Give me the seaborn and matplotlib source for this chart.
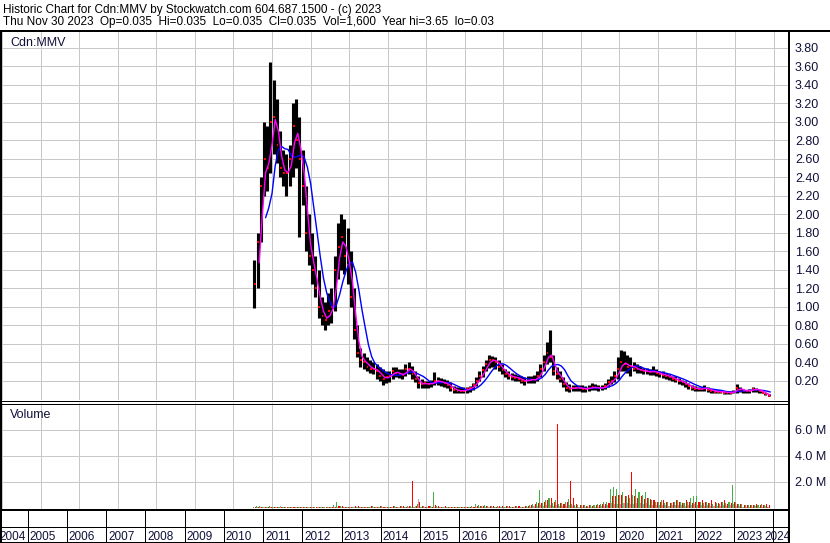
import numpy as np
import pandas as pd
import matplotlib
matplotlib.use("Agg")
import matplotlib.pyplot as plt
import seaborn as sns

# ---------------- data (monthly, Jul 2010 .. Nov 2023) ----------------
start_month = "2010-07"
end_month = "2023-11"

high = [
    1.50, 1.80, 2.40, 3.00, 2.95, 3.65,
    3.45, 3.25, 2.90, 2.70, 2.65, 2.75, 3.20, 3.25, 3.05, 2.70, 2.30, 2.00,
    1.80, 1.55, 1.40, 1.10, 1.05, 1.15, 1.20, 1.55, 1.90, 2.00, 1.95, 1.85,
    1.60, 1.20, 0.80, 0.55, 0.50, 0.45, 0.42, 0.40, 0.38, 0.35, 0.32, 0.30,
    0.30, 0.35, 0.35, 0.33, 0.32, 0.38, 0.40, 0.36, 0.30, 0.25, 0.22, 0.20,
    0.20, 0.21, 0.29, 0.24, 0.23, 0.22, 0.21, 0.18, 0.14, 0.13, 0.13, 0.13,
    0.13, 0.14, 0.17, 0.24, 0.30, 0.36, 0.42, 0.48, 0.47, 0.45, 0.42, 0.38,
    0.33, 0.30, 0.28, 0.27, 0.26, 0.25, 0.24, 0.25, 0.25, 0.26, 0.30, 0.38,
    0.48, 0.62, 0.75, 0.48, 0.35, 0.30, 0.24, 0.18, 0.16, 0.15, 0.15, 0.15,
    0.15, 0.14, 0.15, 0.17, 0.16, 0.15, 0.15, 0.17, 0.22, 0.25, 0.30, 0.45,
    0.53, 0.52, 0.48, 0.45, 0.40, 0.38, 0.36, 0.34, 0.34, 0.33, 0.36, 0.33,
    0.30, 0.30, 0.28, 0.27, 0.25, 0.25, 0.23, 0.21, 0.19, 0.17, 0.15, 0.14,
    0.13, 0.13, 0.15, 0.13, 0.11, 0.10, 0.10, 0.10, 0.09, 0.09, 0.09, 0.10,
    0.16, 0.13, 0.11, 0.10, 0.11, 0.13, 0.12, 0.10, 0.09, 0.07, 0.05,
]
low = [
    0.98, 1.20, 1.70, 2.20, 2.25, 2.45,
    2.65, 2.55, 2.40, 2.30, 2.20, 2.30, 2.40, 2.50, 1.75, 2.10, 1.60, 1.45,
    1.25, 1.10, 0.88, 0.80, 0.75, 0.80, 0.82, 0.95, 1.30, 1.40, 1.35, 1.25,
    1.00, 0.65, 0.45, 0.35, 0.33, 0.30, 0.28, 0.27, 0.22, 0.20, 0.15, 0.17,
    0.18, 0.22, 0.24, 0.23, 0.22, 0.25, 0.27, 0.22, 0.18, 0.12, 0.12, 0.12,
    0.12, 0.13, 0.15, 0.15, 0.14, 0.13, 0.12, 0.09, 0.07, 0.06, 0.06, 0.06,
    0.07, 0.08, 0.10, 0.14, 0.19, 0.24, 0.30, 0.34, 0.35, 0.33, 0.30, 0.27,
    0.24, 0.22, 0.21, 0.20, 0.19, 0.17, 0.15, 0.17, 0.17, 0.17, 0.19, 0.24,
    0.30, 0.38, 0.40, 0.26, 0.22, 0.18, 0.13, 0.09, 0.08, 0.09, 0.09, 0.09,
    0.08, 0.08, 0.09, 0.10, 0.10, 0.09, 0.10, 0.11, 0.13, 0.16, 0.18, 0.22,
    0.30, 0.30, 0.28, 0.25, 0.30, 0.28, 0.28, 0.27, 0.27, 0.26, 0.26, 0.25,
    0.24, 0.23, 0.22, 0.21, 0.19, 0.18, 0.16, 0.15, 0.13, 0.11, 0.10, 0.09,
    0.09, 0.09, 0.09, 0.08, 0.07, 0.06, 0.06, 0.06, 0.05, 0.05, 0.05, 0.06,
    0.07, 0.08, 0.07, 0.07, 0.07, 0.08, 0.08, 0.07, 0.06, 0.04, 0.03,
]
close = [
    1.25, 1.70, 2.30, 2.60, 2.50, 3.00,
    3.05, 2.75, 2.50, 2.45, 2.45, 2.60, 2.95, 2.80, 2.60, 2.30, 1.80, 1.55,
    1.40, 1.20, 1.00, 0.90, 0.85, 0.95, 1.00, 1.40, 1.65, 1.75, 1.55, 1.45,
    1.10, 0.75, 0.50, 0.42, 0.40, 0.35, 0.33, 0.32, 0.30, 0.25, 0.22, 0.24,
    0.25, 0.30, 0.28, 0.27, 0.26, 0.32, 0.33, 0.27, 0.22, 0.17, 0.16, 0.17,
    0.16, 0.17, 0.20, 0.19, 0.18, 0.17, 0.15, 0.12, 0.10, 0.09, 0.09, 0.09,
    0.11, 0.12, 0.15, 0.20, 0.25, 0.31, 0.38, 0.42, 0.42, 0.40, 0.35, 0.31,
    0.27, 0.25, 0.24, 0.23, 0.22, 0.20, 0.19, 0.21, 0.21, 0.21, 0.25, 0.32,
    0.40, 0.50, 0.45, 0.30, 0.27, 0.22, 0.16, 0.12, 0.11, 0.12, 0.12, 0.12,
    0.11, 0.11, 0.12, 0.13, 0.12, 0.12, 0.12, 0.14, 0.18, 0.20, 0.25, 0.32,
    0.40, 0.38, 0.35, 0.36, 0.33, 0.32, 0.31, 0.30, 0.30, 0.29, 0.30, 0.28,
    0.27, 0.26, 0.25, 0.24, 0.22, 0.21, 0.19, 0.18, 0.16, 0.14, 0.12, 0.11,
    0.11, 0.11, 0.12, 0.10, 0.09, 0.08, 0.08, 0.08, 0.07, 0.07, 0.07, 0.08,
    0.12, 0.10, 0.09, 0.09, 0.09, 0.11, 0.10, 0.09, 0.07, 0.05, 0.035,
]
# peak daily volume per month, millions of shares (down / up / unchanged days)
vol_red = [
    0.05, 0.08, 0.10, 0.06, 0.08, 0.10,
    0.08, 0.06, 0.07, 0.05, 0.06, 0.05, 0.07, 0.08, 0.10, 0.06, 0.07, 0.08,
    0.08, 0.06, 0.10, 0.07, 0.06, 0.08, 0.07, 0.10, 0.12, 0.15, 0.10, 0.08,
    0.10, 0.12, 0.15, 0.10, 0.08, 0.10, 0.12, 0.08, 0.10, 0.12, 0.10, 0.08,
    0.10, 0.12, 0.10, 0.15, 0.12, 0.10, 0.18, 2.05, 0.15, 0.45, 0.12, 0.10,
    0.15, 0.10, 0.20, 0.12, 0.10, 0.15, 0.10, 0.08, 0.10, 0.08, 0.07, 0.08,
    0.08, 0.10, 0.10, 0.12, 0.15, 0.12, 0.18, 0.15, 0.12, 0.10, 0.15, 0.12,
    0.12, 0.15, 0.10, 0.12, 0.15, 0.10, 0.12, 0.15, 0.20, 0.30, 0.35, 0.40,
    0.50, 0.60, 0.80, 0.50, 6.50, 0.40, 0.30, 0.50, 2.10, 0.80, 0.30, 0.20,
    0.20, 0.15, 0.20, 0.15, 0.20, 0.25, 0.30, 0.30, 0.40, 0.90, 0.90, 1.00,
    1.00, 0.90, 1.00, 2.80, 0.90, 0.80, 0.90, 0.70, 0.80, 0.70, 0.60, 0.50,
    0.50, 0.60, 0.50, 0.40, 0.50, 0.60, 0.50, 0.40, 0.60, 0.50, 0.40, 0.50,
    0.50, 0.60, 0.50, 0.40, 0.60, 0.50, 0.40, 0.50, 0.60, 0.30, 0.40, 0.50,
    0.30, 0.30, 0.25, 0.20, 0.20, 0.25, 0.30, 0.25, 0.20, 0.30, 0.20,
]
vol_green = [
    0.10, 0.15, 0.12, 0.08, 0.10, 0.12,
    0.07, 0.06, 0.05, 0.06, 0.05, 0.06, 0.08, 0.06, 0.07, 0.05, 0.06, 0.07,
    0.06, 0.05, 0.07, 0.06, 0.05, 0.06, 0.10, 0.20, 0.45, 0.15, 0.10, 0.08,
    0.08, 0.10, 0.08, 0.07, 0.10, 0.08, 0.10, 0.12, 0.08, 0.10, 0.15, 0.10,
    0.08, 0.10, 0.12, 0.10, 0.15, 0.10, 0.12, 0.15, 0.10, 0.30, 0.10, 0.12,
    0.10, 0.12, 1.20, 0.15, 0.10, 0.10, 0.08, 0.07, 0.08, 0.06, 0.07, 0.08,
    0.07, 0.10, 0.12, 0.30, 0.20, 0.15, 0.20, 0.18, 0.12, 0.10, 0.12, 0.10,
    0.10, 0.12, 0.10, 0.10, 0.12, 0.10, 0.10, 0.15, 0.20, 0.30, 0.50, 1.40,
    0.40, 0.60, 0.80, 0.40, 0.60, 0.30, 0.40, 0.50, 0.70, 0.30, 0.20, 0.20,
    0.20, 0.20, 0.15, 0.20, 0.20, 0.30, 0.30, 0.50, 0.50, 1.50, 1.60, 1.50,
    1.00, 1.20, 0.90, 0.80, 1.00, 1.50, 1.20, 1.00, 1.20, 0.80, 0.60, 0.50,
    0.50, 0.60, 0.40, 0.50, 0.40, 0.50, 0.60, 0.50, 0.40, 0.50, 0.80, 0.90,
    0.90, 0.50, 0.40, 0.50, 0.40, 0.30, 0.40, 0.30, 0.50, 0.40, 0.50, 1.80,
    0.50, 0.30, 0.30, 0.20, 0.20, 0.20, 0.25, 0.20, 0.30, 0.20, 0.10,
]
vol_gray = [
    0.03, 0.05, 0.10, 0.04, 0.05, 0.06,
    0.04, 0.05, 0.12, 0.04, 0.03, 0.04, 0.05, 0.04, 0.06, 0.04, 0.05, 0.04,
    0.04, 0.03, 0.05, 0.04, 0.03, 0.04, 0.05, 0.06, 0.08, 0.10, 0.05, 0.04,
    0.05, 0.06, 0.08, 0.05, 0.06, 0.05, 0.08, 0.05, 0.06, 0.05, 0.07, 0.05,
    0.05, 0.06, 0.05, 0.08, 0.06, 0.05, 0.08, 0.10, 0.15, 0.70, 0.08, 0.06,
    0.06, 0.05, 0.10, 0.06, 0.05, 0.06, 0.05, 0.04, 0.05, 0.04, 0.04, 0.05,
    0.04, 0.05, 0.06, 0.08, 0.07, 0.06, 0.08, 0.07, 0.06, 0.05, 0.06, 0.05,
    0.06, 0.07, 0.05, 0.06, 0.07, 0.05, 0.06, 0.08, 0.10, 0.12, 0.15, 0.20,
    0.15, 0.20, 0.25, 0.15, 0.20, 0.12, 0.12, 0.15, 0.20, 0.12, 0.10, 0.08,
    0.08, 0.07, 0.08, 0.10, 0.08, 0.10, 0.12, 0.15, 0.20, 0.40, 0.30, 0.30,
    0.30, 0.35, 0.40, 0.30, 0.30, 0.40, 0.35, 0.30, 0.35, 0.25, 0.20, 0.20,
    0.20, 0.25, 0.20, 0.15, 0.20, 0.20, 0.25, 0.20, 0.15, 0.20, 0.25, 0.30,
    0.25, 0.20, 0.15, 0.20, 0.15, 0.15, 0.15, 0.15, 0.20, 0.15, 0.20, 0.30,
    0.15, 0.12, 0.10, 0.10, 0.08, 0.10, 0.12, 0.10, 0.10, 0.12, 0.08,
]

price_ticks = [0.20, 0.40, 0.60, 0.80, 1.00, 1.20, 1.40, 1.60, 1.80, 2.00,
               2.20, 2.40, 2.60, 2.80, 3.00, 3.20, 3.40, 3.60, 3.80]
volume_ticks = [2.0, 4.0, 6.0]
volume_tick_labels = ["2.0 M", "4.0 M", "6.0 M"]
years = list(range(2004, 2025))
symbol = "Cdn:MMV"
title_line1 = "Historic Chart for Cdn:MMV by Stockwatch.com 604.687.1500 - (c) 2023"
title_line2 = ("Thu Nov 30 2023  Op=0.035  Hi=0.035  Lo=0.035  Cl=0.035  "
               "Vol=1,600  Year hi=3.65  lo=0.03")

# ---------------- styling ----------------
sns.set_theme(style="white")
plt.rcParams["font.family"] = ["Liberation Sans", "DejaVu Sans"]
TXT = "#10103a"
GRID = "#c8c8c8"
PX = 0.72  # points per pixel at 100 dpi

periods = pd.period_range(start_month, end_month, freq="M")
df = pd.DataFrame({
    "x": [p.year + (p.month - 0.5) / 12 for p in periods],
    "high": high, "low": low, "close": close,
    "vol_red": vol_red, "vol_green": vol_green, "vol_gray": vol_gray,
})
mw = 1 / 12
df["x_end"] = df["x"] + 0.5 * mw
df["ma_fast"] = df["close"].rolling(2).mean()
df["ma_slow"] = df["close"].rolling(6, min_periods=4).mean()

W, H = 830, 543


def px2yr(px):
    return 2005 + (px - 27.5) / 39.25


fig = plt.figure(figsize=(W / 100, H / 100), dpi=100)
fig.patch.set_facecolor("white")

xlim = (px2yr(2), px2yr(788))

# ---- price panel ----
ax_p = fig.add_axes([2 / W, 1 - 400 / H, 786 / W, 368 / H])
ax_p.set_xlim(*xlim)
ax_p.set_ylim((399 - 400) / 92.4, (399 - 32) / 92.4)
ax_p.set_xticks(years)
ax_p.set_yticks(price_ticks)
ax_p.set_xticklabels([])
ax_p.set_yticklabels([f"{t:.2f}" for t in price_ticks])
ax_p.yaxis.tick_right()
ax_p.tick_params(axis="both", length=0)
ax_p.tick_params(axis="y", pad=5, labelsize=9, labelcolor=TXT)
ax_p.grid(True, color=GRID, lw=1 * PX)
ax_p.set_axisbelow(True)
for s in ax_p.spines.values():
    s.set_visible(False)

ax_p.vlines(df["x"], df["low"], df["high"], colors="black", lw=3.1 * PX, zorder=2)
ax_p.hlines(df["close"], df["x"] - 0.1 * mw, df["x"] + 0.5 * mw, colors="red",
            lw=2 * PX, zorder=3)
sns.lineplot(data=df.dropna(subset=["ma_slow"]), x="x_end", y="ma_slow", ax=ax_p,
             color="#0000ff", lw=1.4 * PX, estimator=None, sort=False, zorder=4)
sns.lineplot(data=df.dropna(subset=["ma_fast"]), x="x_end", y="ma_fast", ax=ax_p,
             color="#ff00ff", lw=1.4 * PX, estimator=None, sort=False, zorder=5)
ax_p.set_xlabel("")
ax_p.set_ylabel("")
ax_p.text(8 / 786, (400 - 46) / 368, symbol, transform=ax_p.transAxes,
          fontsize=9, color=TXT, va="baseline", ha="left")

# ---- volume panel ----
ax_v = fig.add_axes([2 / W, 1 - 509 / H, 786 / W, 106 / H])
ax_v.set_xlim(*xlim)
ax_v.set_ylim((508 - 509) / 13, (508 - 403) / 13)
ax_v.set_xticks(years)
ax_v.set_xticklabels([])
ax_v.set_yticks(volume_ticks)
ax_v.set_yticklabels(volume_tick_labels)
ax_v.yaxis.tick_right()
ax_v.tick_params(axis="both", length=0)
ax_v.tick_params(axis="y", pad=5, labelsize=9, labelcolor=TXT)
ax_v.grid(True, color=GRID, lw=1 * PX)
ax_v.set_axisbelow(True)
for s in ax_v.spines.values():
    s.set_visible(False)
ax_v.bar(df["x"] - mw / 3, df["vol_green"], width=mw / 3, color="#44b044", lw=0, zorder=2)
ax_v.bar(df["x"], df["vol_gray"], width=mw / 3, color="#a8a8a8", lw=0, zorder=2)
ax_v.bar(df["x"] + mw / 3, df["vol_red"], width=mw / 3, color="#ff0000", lw=0, zorder=3)
ax_v.text(8 / 786, (509 - 418) / 106, "Volume", transform=ax_v.transAxes,
          fontsize=9, color=TXT, va="baseline", ha="left")

# ---- year label strip ----
ax_l = fig.add_axes([2 / W, 0, 786 / W, 34 / H])
ax_l.set_xlim(*xlim)
ax_l.set_ylim(543, 509)
ax_l.axis("off")
ax_l.vlines(years, 509, 543, colors="black", lw=1 * PX)
for y in years:
    if y == years[0]:
        xpos, ha = px2yr(-1), "left"
    elif y == years[-1]:
        xpos, ha = px2yr(791), "right"
    else:
        xpos, ha = y + 2 / 39.25, "left"
    ax_l.text(xpos, 540, str(y), ha=ha, va="baseline", fontsize=8.5,
              color=TXT, clip_on=False)

# ---- frame lines (pixel overlay) ----
ax_o = fig.add_axes([0, 0, 1, 1], zorder=10)
ax_o.set_xlim(0, W)
ax_o.set_ylim(H, 0)
ax_o.axis("off")
ax_o.patch.set_alpha(0)
ax_o.hlines(31, 0, W, colors="black", lw=2 * PX)
ax_o.vlines(1, 31, H, colors="black", lw=2 * PX)
ax_o.vlines(789, 31, H, colors="black", lw=2 * PX)
ax_o.hlines(400.5, 0, 789, colors="black", lw=1 * PX)
ax_o.hlines(403.5, 0, 789, colors="black", lw=1 * PX)
ax_o.hlines(509.5, 0, 789, colors="black", lw=2 * PX)
ax_o.hlines(527, 0, 789, colors="black", lw=1 * PX)
ax_o.hlines(542, 0, 789, colors="black", lw=1 * PX)

fig.text(3 / W, 1 - 13 / H, title_line1, fontsize=8.5, color="black", va="baseline")
fig.text(3 / W, 1 - 25.5 / H, title_line2, fontsize=8.5, color="black", va="baseline")

fig.savefig("out.png", dpi=100, facecolor="white")
